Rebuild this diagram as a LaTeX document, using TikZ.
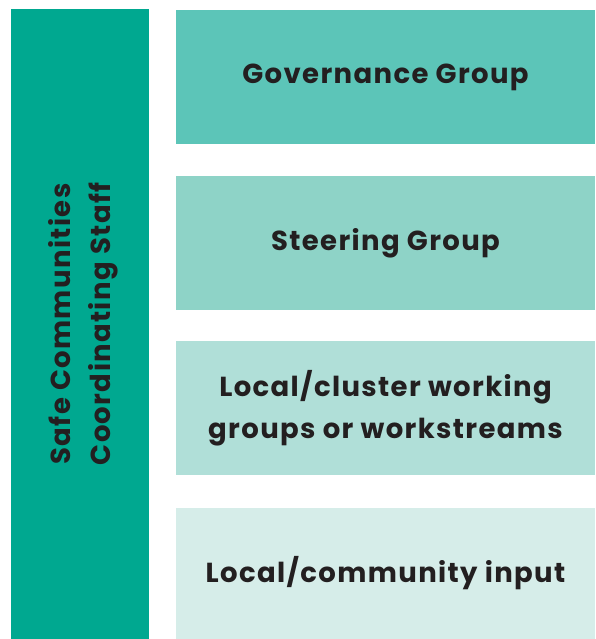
\documentclass[tikz,border=0pt]{standalone}
\usepackage{fontspec}
\setmainfont{Poppins}[LetterSpace=5.0]
\definecolor{barteal}{HTML}{00A890}
\definecolor{tealA}{HTML}{5CC5B8}
\definecolor{tealB}{HTML}{8ED3C7}
\definecolor{tealC}{HTML}{B0DFD8}
\definecolor{tealD}{HTML}{D6EDE9}
\definecolor{txt}{HTML}{231F20}
\begin{document}
\begin{tikzpicture}[x=1pt,y=1pt]
		\tikzstyle{level}=[rectangle,align=center,inner sep=0,minimum width=419pt,minimum height=134pt,text=txt,font=\fontsize{27.5}{42}\selectfont\bfseries]
		\tikzstyle{staff}=[rectangle,fill=barteal,inner sep=0,minimum width=138pt,minimum height=630pt]
		\useasboundingbox (0,0) rectangle (595,639);
		
		\node [staff] (st) at (80, 315) {};
		\node [rotate=90,align=center,text=txt,font=\fontsize{27.5}{40}\selectfont\bfseries] (stl) at (83, 315) {Safe Communities\\Coordinating Staff};
		
		\node [level,fill=tealA] (gov) at (385.5, 562) {Governance Group};
		\node [level,fill=tealB] (ste) at (385.5, 396) {Steering Group};
		\node [level,fill=tealC] (loc) at (385.5, 231) {Local/cluster working\\groups or workstreams};
		\node [level,fill=tealD,minimum height=131pt] (com) at (385.5, 65.5) {Local/community input};
	\end{tikzpicture}
\end{document}
